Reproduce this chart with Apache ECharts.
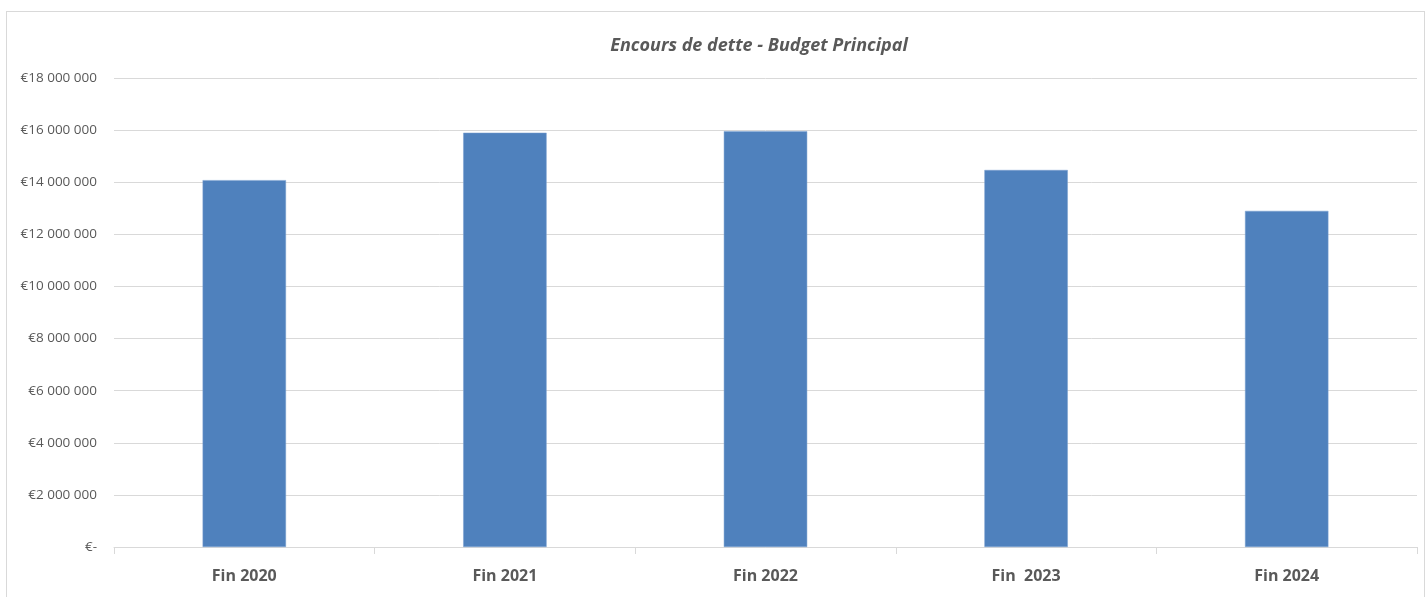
<!DOCTYPE html>
<html>
<head>
<meta charset="utf-8">
<script src="https://cdn.jsdelivr.net/npm/echarts@6/dist/echarts.min.js"></script>
<style>
  html, body { margin: 0; padding: 0; background: #fff; }
  #frame { position: absolute; left: 6px; top: 11px; width: 1419px; height: 600px; border: 1px solid #d9d9d9; box-sizing: border-box; }
  #chart { position: absolute; left: 0; top: 0; width: 1427px; height: 597px; }
</style>
</head>
<body>
<div id="frame"></div>
<div id="chart"></div>
<script>
var categories = ['Fin 2020', 'Fin 2021', 'Fin 2022', 'Fin  2023', 'Fin 2024'];
var encours = [14080000, 15900000, 15960000, 14470000, 12900000];
var yTicks = [0, 2000000, 4000000, 6000000, 8000000, 10000000, 12000000, 14000000, 16000000, 18000000];

var FONT = '"Open Sans", sans-serif';

function euro(v) {
    if (v === 0) return '€-';
    return '€' + String(v).replace(/\B(?=(\d{3})+(?!\d))/g, ' ');
}

var myChart = echarts.init(document.getElementById('chart'), null, { renderer: 'canvas' });
myChart.setOption({
    animation: false,
    title: {
        text: 'Encours de dette - Budget Principal',
        left: 754,
        top: 32,
        textAlign: 'center',
        textStyle: {
            fontFamily: FONT,
            fontStyle: 'italic',
            fontWeight: 'bold',
            fontSize: 18,
            color: '#595959'
        }
    },
    grid: { left: 114, right: 10, top: 78, bottom: 50 },
    xAxis: {
        type: 'category',
        data: categories,
        axisLine: { lineStyle: { color: '#d9d9d9', width: 1 } },
        axisTick: { show: true, length: 7, lineStyle: { color: '#d9d9d9' } },
        axisLabel: {
            margin: 21,
            fontFamily: FONT,
            fontWeight: 'bold',
            fontSize: 16,
            color: '#595959'
        }
    },
    yAxis: {
        type: 'value',
        min: yTicks[0],
        max: yTicks[yTicks.length - 1],
        interval: 2000000,
        axisLine: { show: false },
        axisTick: { show: false },
        splitLine: { lineStyle: { color: '#d9d9d9', width: 1 } },
        axisLabel: {
            margin: 17,
            fontFamily: FONT,
            fontSize: 13.5,
            color: '#595959',
            formatter: euro
        }
    },
    series: [{
        type: 'bar',
        data: encours,
        barWidth: '32%',
        itemStyle: { color: '#4f81bd', borderColor: '#7ba0d0', borderWidth: 0.5 }
    }]
});
</script>
</body>
</html>
